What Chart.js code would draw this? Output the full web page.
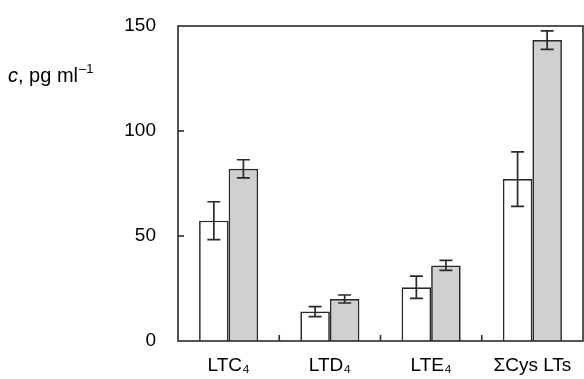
<!DOCTYPE html>
<html><head><meta charset="utf-8">
<script src="https://cdn.jsdelivr.net/npm/chart.js@4/dist/chart.umd.min.js"></script>
<style>html,body{margin:0;padding:0;background:#fff}#w{width:584px;height:379px}</style>
</head><body><div id="w"><canvas id="c" width="584" height="379"></canvas></div>
<script>
const categories = ['LTC₄', 'LTD₄', 'LTE₄', 'ΣCys LTs'];
const seriesA = [57.3, 14, 25.6, 77.1];
const errorsA = [9, 2.4, 5.3, 13];
const seriesB = [82, 20, 36, 143.3];
const errorsB = [4.3, 1.9, 2.4, 4.4];
const yTicks = [0, 50, 100, 150];
const yTitle = 'c, pg ml';

const FONT = '"Liberation Sans", Arial, sans-serif';
const INK = '#2a2a2a';

const decor = {
  id: 'decor',
  afterDatasetsDraw(chart) {
    const ctx = chart.ctx, a = chart.chartArea;
    const ys = chart.scales.y, xs = chart.scales.x;
    const errs = [errorsA, errorsB];
    ctx.save();
    ctx.strokeStyle = INK; ctx.lineWidth = 1.7;
    chart.data.datasets.forEach((ds, di) => {
      const meta = chart.getDatasetMeta(di);
      meta.data.forEach((bar, i) => {
        const v = ds.data[i], e = errs[di][i];
        const yt = ys.getPixelForValue(v + e), yb = ys.getPixelForValue(v - e);
        ctx.beginPath();
        ctx.moveTo(bar.x, yt); ctx.lineTo(bar.x, yb);
        ctx.moveTo(bar.x - 6.5, yt); ctx.lineTo(bar.x + 6.5, yt);
        ctx.moveTo(bar.x - 6.5, yb); ctx.lineTo(bar.x + 6.5, yb);
        ctx.stroke();
      });
    });
    ctx.lineWidth = 1.6;
    ctx.strokeRect(a.left, a.top, a.right - a.left, a.bottom - a.top);
    yTicks.forEach(t => {
      if (t === 0 || t === 150) return;
      const y = ys.getPixelForValue(t);
      ctx.beginPath(); ctx.moveTo(a.left, y); ctx.lineTo(a.left + 6, y); ctx.stroke();
    });
    for (let i = 1; i < categories.length; i++) {
      const x = (xs.getPixelForValue(i - 1) + xs.getPixelForValue(i)) / 2;
      ctx.beginPath(); ctx.moveTo(x, a.bottom); ctx.lineTo(x, a.bottom - 6); ctx.stroke();
    }
    ctx.fillStyle = '#000';
    ctx.textBaseline = 'alphabetic';
    ctx.font = 'italic 20px ' + FONT;
    let x = 8; const y = 82;
    ctx.fillText('c', x, y); x += ctx.measureText('c').width;
    ctx.font = '20px ' + FONT;
    ctx.fillText(yTitle.slice(1), x, y); x += ctx.measureText(yTitle.slice(1)).width;
    ctx.font = '13px ' + FONT;
    ctx.fillText('–1', x + 1, y - 9);
    ctx.restore();
  }
};

new Chart(document.getElementById('c'), {
  type: 'bar',
  data: {
    labels: categories,
    datasets: [
      { data: seriesA, backgroundColor: '#ffffff', borderColor: INK, borderWidth: 1.7, borderSkipped: 'bottom' },
      { data: seriesB, backgroundColor: '#d0d0d0', borderColor: INK, borderWidth: 1.7, borderSkipped: 'bottom' }
    ]
  },
  options: {
    responsive: false, animation: false,
    devicePixelRatio: 1,
    layout: { padding: { top: 26, right: 1, left: 0, bottom: 0 } },
    plugins: { legend: { display: false }, tooltip: { enabled: false } },
    datasets: { bar: { categoryPercentage: 0.584, barPercentage: 1.0 } },
    scales: {
      x: {
        grid: { display: false, drawTicks: false },
        border: { display: false },
        ticks: { color: '#000', font: { family: FONT, size: 19 }, padding: 13, maxRotation: 0 },
        afterFit(s) { s.height = 38; s.paddingLeft = 0; s.paddingRight = 0; }
      },
      y: {
        min: 0, max: 150,
        afterBuildTicks(s) { s.ticks = yTicks.map(v => ({ value: v })); },
        grid: { display: false, drawTicks: false },
        border: { display: false },
        ticks: { color: '#000', font: { family: FONT, size: 19 }, padding: 22 },
        afterFit(s) { s.width = 178; s.paddingTop = 0; s.paddingBottom = 0; }
      }
    }
  },
  plugins: [decor]
});
</script></body></html>
